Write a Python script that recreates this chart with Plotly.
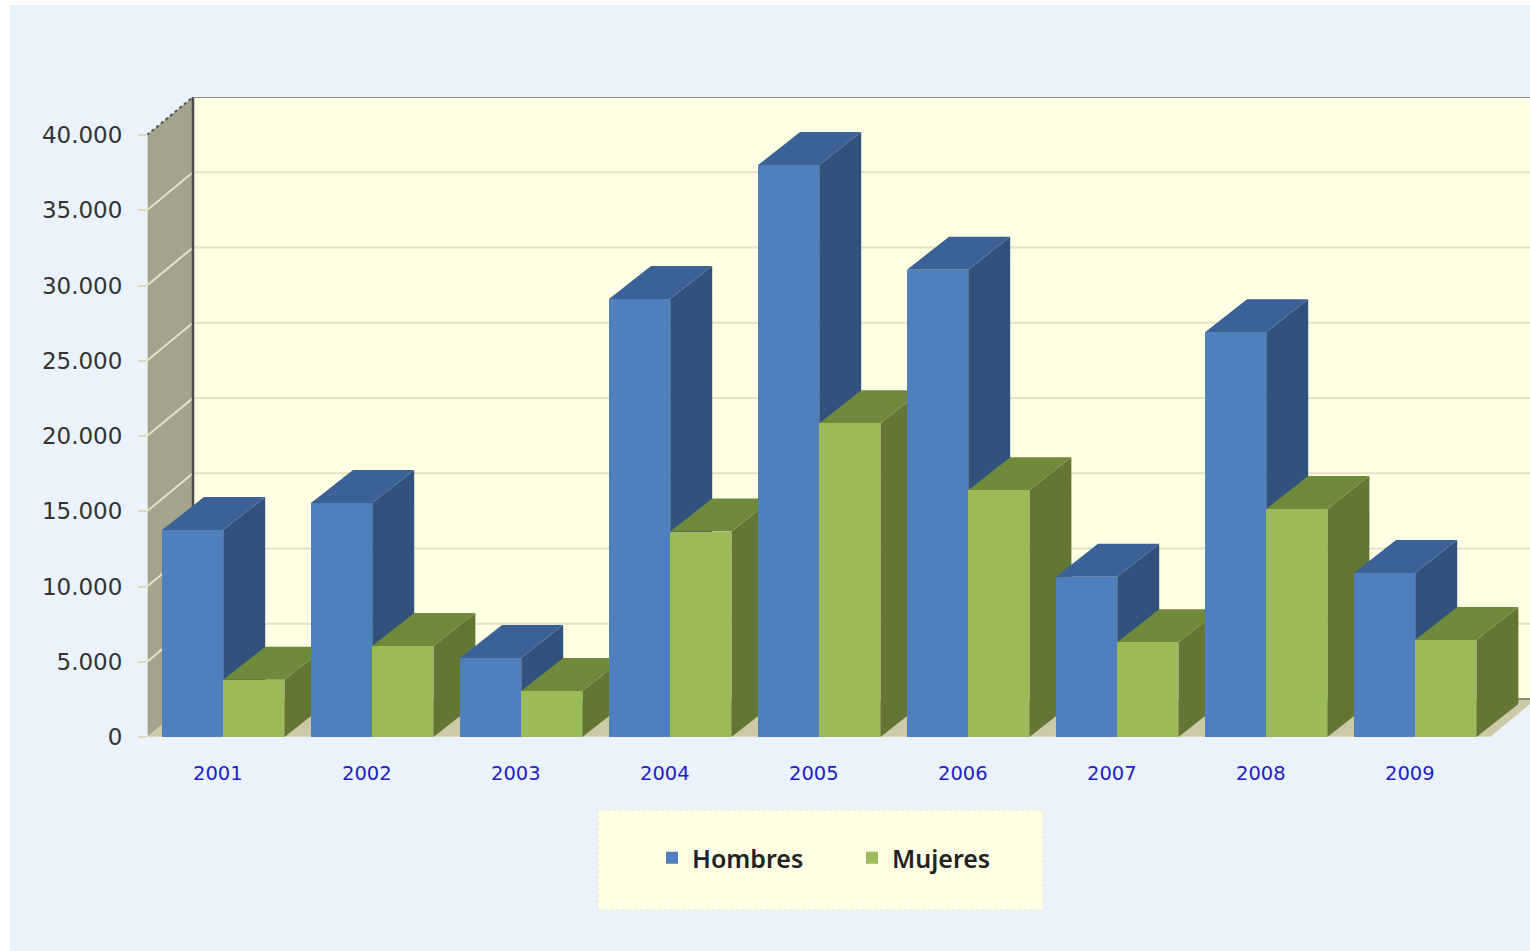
import plotly.graph_objects as go

years = [2001, 2002, 2003, 2004, 2005, 2006, 2007, 2008, 2009]
hombres = [13750, 15550, 5250, 29100, 38000, 31050, 10650, 26900, 10900]
mujeres = [3800, 6050, 3050, 13650, 20850, 16400, 6300, 15150, 6450]
y_ticks = [0, 5000, 10000, 15000, 20000, 25000, 30000, 35000, 40000]
y_labels = ["0", "5.000", "10.000", "15.000", "20.000", "25.000", "30.000", "35.000", "40.000"]

W, H = 1530, 951
PL, PR, PT, PB = 147, 1530, 97, 737        # plot area in pixels
PX_PER_YEAR = 149.0
PX_PER_VAL = 602 / 40000
X0_PX = 217.8                              # pixel of the 2001 tick

X_MIN = 2001 + (PL - X0_PX) / PX_PER_YEAR
X_MAX = 2001 + (PR - X0_PX) / PX_PER_YEAR
Y_MAX = (PB - PT) / PX_PER_VAL

BAR_W = 61.2 / PX_PER_YEAR
OFF_H = (162 - X0_PX) / PX_PER_YEAR
OFF_M = OFF_H + BAR_W
BAR_DX = 42 / PX_PER_YEAR
BAR_DY = 33 / PX_PER_VAL
WALL_DX = 46 / PX_PER_YEAR
WALL_DY = 38 / PX_PER_VAL
FLOOR_END = 2001 + (1490 - X0_PX) / PX_PER_YEAR

C_H = dict(front="#4F7FBD", top="#3A6296", side="#30527C")
C_M = dict(front="#9BBB59", top="#6F8A3A", side="#647634")
BG = "#EAF3FB"
WALL = "#FFFFE3"
LEFT = "#A4A390"
FLOOR = "#CBC9A6"
GRID = "#E4E2C8"

fig = go.Figure()


def poly(xs, ys, color):
    fig.add_trace(go.Scatter(x=xs, y=ys, mode="lines", fill="toself", fillcolor=color,
                             line=dict(width=0, color=color), showlegend=False,
                             hoverinfo="skip", cliponaxis=True))


def line(xs, ys, color, width, dash="solid", clip=True):
    fig.add_trace(go.Scatter(x=xs, y=ys, mode="lines", line=dict(color=color, width=width, dash=dash),
                             showlegend=False, hoverinfo="skip", cliponaxis=clip))


back_x = X_MIN + WALL_DX
# back wall, left wall, floor
poly([back_x, X_MAX, X_MAX, back_x], [WALL_DY, WALL_DY, Y_MAX, Y_MAX], WALL)
poly([X_MIN, back_x, back_x, X_MIN], [0, WALL_DY, Y_MAX, 40000], LEFT)
poly([X_MIN, back_x, FLOOR_END + WALL_DX, FLOOR_END], [0, WALL_DY, WALL_DY, 0], FLOOR)

# gridlines running over left wall and back wall
for v in y_ticks[1:-1]:
    line([X_MIN, back_x, X_MAX], [v, v + WALL_DY, v + WALL_DY], GRID, 2)
line([FLOOR_END + WALL_DX * 0.1, X_MAX], [WALL_DY, WALL_DY], "#8E8D80", 2)
line([back_x, back_x], [WALL_DY, Y_MAX], "#4A4A46", 2.5)
line([X_MIN, back_x], [40000, Y_MAX], "#55554E", 2, dash="dot")
line([back_x, X_MAX], [Y_MAX, Y_MAX], "#8E8D80", 2, clip=False)
line([X_MIN, FLOOR_END], [0, 0], "#DDD9B8", 2, clip=False)
line([X_MIN, X_MIN], [0, 40000], "#DDD9B8", 2, clip=False)

# tops and sides of the bars
for i, yr in enumerate(years):
    for val, off, c in ((hombres[i], OFF_H, C_H), (mujeres[i], OFF_M, C_M)):
        xl = yr + off
        xr = xl + BAR_W
        poly([xr, xr + BAR_DX, xr + BAR_DX, xr], [0, BAR_DY, val + BAR_DY, val], c["side"])
        poly([xl, xl + BAR_DX, xr + BAR_DX, xr], [val, val + BAR_DY, val + BAR_DY, val], c["top"])

# front faces on the overlay axes, above every side and top
fig.add_trace(go.Bar(x=years, y=hombres, name="Hombres", width=BAR_W, offset=OFF_H,
                     marker=dict(color=C_H["front"], line=dict(width=0)),
                     xaxis="x2", yaxis="y2"))
fig.add_trace(go.Bar(x=years, y=mujeres, name="Mujeres", width=BAR_W, offset=OFF_M,
                     marker=dict(color=C_M["front"], line=dict(width=0)),
                     xaxis="x2", yaxis="y2"))

plot_w = PR - PL
plot_h = PB - PT
px = lambda p: (p - PL) / plot_w
py = lambda p: (PB - p) / plot_h

fig.update_layout(
    width=W, height=H, autosize=False,
    margin=dict(l=PL, r=W - PR, t=PT, b=H - PB, pad=0),
    paper_bgcolor="white", plot_bgcolor="rgba(0,0,0,0)",
    barmode="overlay", bargap=0,
    xaxis=dict(range=[X_MIN, X_MAX], tickvals=years, ticktext=[str(y) for y in years],
               showgrid=False, zeroline=False, showline=False,
               ticks="outside", ticklen=19, tickcolor="rgba(0,0,0,0)",
               tickfont=dict(family="DejaVu Sans", size=19.5, color="#2222C4")),
    yaxis=dict(range=[0, Y_MAX], tickvals=y_ticks, ticktext=y_labels,
               showgrid=False, zeroline=False, showline=False,
               ticks="outside", ticklen=8, tickwidth=2, tickcolor="#DDD9B8",
               ticklabelstandoff=11,
               tickfont=dict(family="DejaVu Sans", size=23, color="#333333")),
    xaxis2=dict(overlaying="x", matches="x", visible=False),
    yaxis2=dict(overlaying="y", matches="y", visible=False),
    legend=dict(orientation="h", x=px(652), y=py(858), xanchor="left", yanchor="middle",
                bgcolor="rgba(0,0,0,0)", borderwidth=0, traceorder="normal",
                entrywidth=155, entrywidthmode="pixels",
                font=dict(family="Noto Sans", size=25, color="#222222", weight=600)),
    shapes=[
        dict(type="rect", xref="paper", yref="paper", layer="below", x0=px(10), x1=px(1530),
             y0=py(951), y1=py(5), fillcolor=BG, line=dict(width=0)),
        dict(type="rect", xref="paper", yref="paper", layer="below", x0=px(598), x1=px(1043),
             y0=py(910), y1=py(810), fillcolor=WALL, line=dict(color="#E8E6C8", width=1, dash="dot")),
    ],
)

fig.write_html("out.html", config=dict(displayModeBar=False),
               post_script="document.body.style.margin='0';document.documentElement.style.overflow='hidden';")
